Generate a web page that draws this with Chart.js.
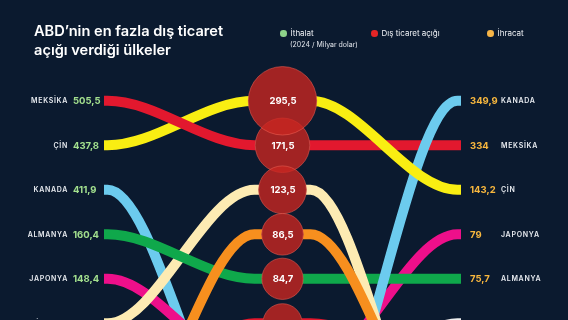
<!DOCTYPE html>
<html lang="tr">
<head>
<meta charset="utf-8">
<title>ABD dış ticaret açığı</title>
<script src="https://cdn.jsdelivr.net/npm/chart.js@4.4.1/dist/chart.umd.min.js"></script>
<style>
  html, body { margin: 0; padding: 0; background: #0b1a2f; }
  body { width: 568px; height: 320px; overflow: hidden; position: relative; font-family: Inter, 'Noto Sans', sans-serif; color: #fff; }
  #chart-wrap { position: absolute; left: 0; top: 0; width: 568px; height: 320px; }
  .title { position: absolute; left: 34px; top: 22px; font-size: 14.6px; font-weight: 600; line-height: 18.5px; }
  .leg { position: absolute; top: 28px; font-size: 8px; line-height: 10px; color: #eef0f4; white-space: nowrap; }
  .leg i { display: inline-block; width: 6.5px; height: 6.5px; border-radius: 50%; margin-right: 4px; vertical-align: -0.5px; }
  .leg-sub { position: absolute; left: 290px; top: 40px; font-size: 7px; line-height: 9px; color: #e3e6ec; white-space: nowrap; }
</style>
</head>
<body>
<div id="chart-wrap"><canvas id="c"></canvas></div>
<div class="title">ABD’nin en fazla dış ticaret<br>açığı verdiği ülkeler</div>
<div class="leg" style="left:280px"><i style="background:#8ed38a"></i>İthalat</div>
<div class="leg-sub">(2024 / Milyar dolar)</div>
<div class="leg" style="left:371px"><i style="background:#e52526"></i>Dış ticaret açığı</div>
<div class="leg" style="left:487px"><i style="background:#f7b547"></i>İhracat</div>
<script>
// 2024, milyar dolar
const countries   = ['MEKSİKA', 'ÇİN', 'KANADA', 'ALMANYA', 'JAPONYA', 'VİETNAM', 'G. KORE', 'TAYVAN', 'İRLANDA', 'HİNDİSTAN'];
const importVals  = [505.5, 437.8, 411.9, 160.4, 148.4, 136.6, 131.5, 116.3, 103.3, 87.4];
const deficitVals = [171.5, 295.5, 63.3, 84.7, 68.5, 123.5, 66.0, 73.9, 86.5, 45.7];
const exportVals  = [334, 143.2, 349.9, 75.7, 79, 13.1, 65.5, 42.3, 16.8, 41.7];
const lineColors  = ['#e2182e', '#f9ee12', '#6ccbee', '#0fa84b', '#ee0f8a', '#fdebb3', '#eeeeee', '#e3172c', '#f78f1e', '#9b7be0'];

// which line lies on top where they cross (bottom -> top)
const leftStack  = ['KANADA', 'JAPONYA', 'HİNDİSTAN', 'G. KORE', 'TAYVAN', 'VİETNAM', 'ALMANYA', 'İRLANDA', 'ÇİN', 'MEKSİKA'];
const rightStack = ['MEKSİKA', 'HİNDİSTAN', 'TAYVAN', 'G. KORE', 'JAPONYA', 'ALMANYA', 'KANADA', 'VİETNAM', 'İRLANDA', 'ÇİN'];

const BG = '#0b1a2f';
const H = 320;
const ROW0 = 100.8, ROW_GAP = 44.5;   // pixel row layout
const MID_HALF = 0.157;                // flat part through the bubble (x units)
const END_FLAT = 0.02;

const rank = vals => vals.map(v => vals.filter(w => w > v).length);
const impRank = rank(importVals);
const defRank = rank(deficitVals);
const expRank = rank(exportVals);

const fmt = v => String(v).replace('.', ',');
const bubbleR = v => 5 + 1.7 * Math.sqrt(v);

const datasets = [];
const bubbles = () => countries.map((c, i) => ({ x: 1, y: defRank[i], r: bubbleR(deficitVals[i]) }));
datasets.push({
  type: 'bubble', data: bubbles(), order: 0, clip: false,
  backgroundColor: 'rgba(200,38,32,0.8)', borderColor: 'rgba(236,96,84,0.55)', borderWidth: 1,
});
// dark disc under the red one, hides the lines passing through
datasets.push({
  type: 'bubble', data: bubbles(), order: 1, clip: false,
  backgroundColor: BG, borderWidth: 0,
});

countries.forEach((c, i) => {
  const l = impRank[i], m = defRank[i], r = expRank[i];
  const common = {
    type: 'line', borderColor: lineColors[i], borderWidth: 10,
    pointRadius: 0, fill: false, cubicInterpolationMode: 'monotone',
  };
  datasets.push({
    ...common, order: 100 - leftStack.indexOf(c),
    data: [{ x: 0, y: l }, { x: END_FLAT, y: l }, { x: 1 - MID_HALF, y: m }, { x: 1, y: m }],
  });
  datasets.push({
    ...common, order: 100 - rightStack.indexOf(c),
    data: [{ x: 1, y: m }, { x: 1 + MID_HALF, y: m }, { x: 2 - END_FLAT, y: r }, { x: 2, y: r }],
  });
});

const rowLabels = {
  id: 'rowLabels',
  afterDatasetsDraw(chart) {
    const { ctx, scales: { x, y } } = chart;
    const xl = x.getPixelForValue(0), xm = x.getPixelForValue(1), xr = x.getPixelForValue(2);
    ctx.save();
    ctx.textBaseline = 'middle';
    countries.forEach((c, i) => {
      const yl = y.getPixelForValue(impRank[i]) + 0.5;
      const ym = y.getPixelForValue(defRank[i]) + 0.5;
      const yr = y.getPixelForValue(expRank[i]) + 0.5;

      // left: country + import
      ctx.font = '600 7px Inter';
      ctx.letterSpacing = '0.7px';
      ctx.fillStyle = '#e8ebf0';
      ctx.textAlign = 'right';
      ctx.fillText(c, xl - 36, yl);
      ctx.letterSpacing = '0px';
      ctx.font = '700 9.5px Inter';
      ctx.fillStyle = '#a3e08e';
      ctx.textAlign = 'left';
      ctx.fillText(fmt(importVals[i]), xl - 31, yl);

      // right: export + country
      ctx.fillStyle = '#f8b73e';
      ctx.fillText(fmt(exportVals[i]), xr + 9, yr);
      ctx.font = '600 7px Inter';
      ctx.letterSpacing = '0.7px';
      ctx.fillStyle = '#e8ebf0';
      ctx.fillText(c, xr + 40, yr);
      ctx.letterSpacing = '0px';

      // middle: deficit
      ctx.font = '700 9.5px Inter';
      ctx.fillStyle = '#ffffff';
      ctx.textAlign = 'center';
      ctx.fillText(fmt(deficitVals[i]), xm + 0.5, ym);
    });
    ctx.restore();
  },
};

new Chart(document.getElementById('c'), {
  type: 'line',
  data: { datasets },
  options: {
    responsive: true,
    maintainAspectRatio: false,
    animation: false,
    events: [],
    layout: { autoPadding: false, padding: { left: 104, right: 107, top: ROW0 - ROW_GAP, bottom: 0 } },
    scales: {
      x: { type: 'linear', min: 0, max: 2, display: false },
      y: { type: 'linear', reverse: true, min: -1, max: (H - ROW0) / ROW_GAP, display: false },
    },
    elements: { line: { capBezierPoints: false } },
    plugins: { legend: { display: false }, tooltip: { enabled: false } },
  },
  plugins: [rowLabels],
});
</script>
</body>
</html>
